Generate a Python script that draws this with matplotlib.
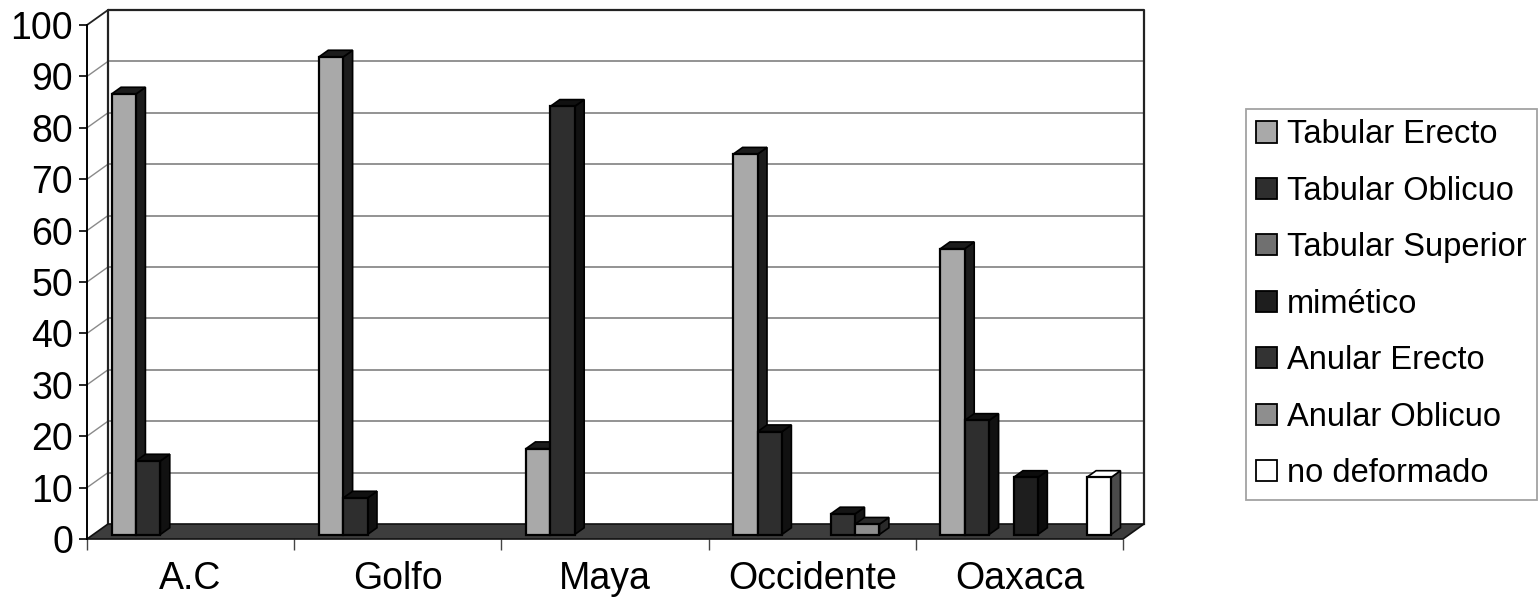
import numpy as np
import matplotlib
matplotlib.use("Agg")
import matplotlib.pyplot as plt
from matplotlib.patches import Patch

plt.rcParams["font.family"] = ["Liberation Sans", "DejaVu Sans"]

# porcentaje de cada tipo de deformación por región
regiones = ["A.C", "Golfo", "Maya", "Occidente", "Oaxaca"]
tipos = ["Tabular Erecto", "Tabular Oblicuo", "Tabular Superior", "mimético",
         "Anular Erecto", "Anular Oblicuo", "no deformado"]
tabular_erecto = [85.7, 92.9, 16.7, 74.0, 55.6]
tabular_oblicuo = [14.3, 7.1, 83.3, 20.0, 22.2]
tabular_superior = [0, 0, 0, 0, 0]
mimetico = [0, 0, 0, 0, 11.1]
anular_erecto = [0, 0, 0, 4.0, 0]
anular_oblicuo = [0, 0, 0, 2.0, 0]
no_deformado = [0, 0, 0, 0, 11.1]
series = [tabular_erecto, tabular_oblicuo, tabular_superior, mimetico,
          anular_erecto, anular_oblicuo, no_deformado]

# (frente, lado/tapa) en escala de grises
colores = [("#a9a9a9", "#1c1c1c"), ("#2e2e2e", "#111111"), ("#707070", "#2a2a2a"),
           ("#1e1e1e", "#0c0c0c"), ("#333333", "#151515"), ("#8e8e8e", "#2a2a2a"),
           ("#ffffff", "#4a4a4a")]

W, H = 1538, 601
fig = plt.figure(figsize=(W / 100, H / 100), dpi=100)
x0_px, x1_px, y0_px, y1_px = 87, 1123, 539, 25
ax = fig.add_axes([x0_px / W, (H - y0_px) / H, (x1_px - x0_px) / W, (y0_px - y1_px) / H])
ncat = len(regiones)
ax.set_xlim(0, ncat)
ax.set_ylim(0, 100)

# desplazamiento de profundidad (pseudo 3D) en unidades de datos
px_x = (x1_px - x0_px) / ncat
px_y = (y0_px - y1_px) / 100
dX, dY = 21 / px_x, 15 / px_y

# pared del fondo, pared lateral y piso
grid_c = "#8a8a8a"
for v in range(10, 100, 10):
    ax.plot([dX, ncat + dX], [v + dY, v + dY], color=grid_c, lw=1.3, clip_on=False, zorder=1)
    ax.plot([0, dX], [v, v + dY], color=grid_c, lw=1.0, clip_on=False, zorder=1)
ax.plot([dX, dX, ncat + dX, ncat + dX], [dY, 100 + dY, 100 + dY, dY],
        color="#222222", lw=1.6, clip_on=False, zorder=1)
ax.plot([0, dX], [100, 100 + dY], color="#222222", lw=1.3, clip_on=False, zorder=1)
ax.fill([0, ncat, ncat + dX, dX], [0, 0, dY, dY], facecolor="#3d3d3d",
        edgecolor="#111111", lw=1.2, clip_on=False, zorder=2)

# barras: cara frontal con ax.bar, tapa y lado como polígonos
w = 1 / (len(tipos) + 1.5)
f1, f2 = 0.3, 0.75
for i in range(ncat):
    for j, vals in enumerate(series):
        v = vals[i]
        if v <= 0:
            continue
        front, dark = colores[j]
        xl = i + (0.75 + j) * w + f1 * dX
        xr = xl + w
        yb = f1 * dY
        ddx, ddy = (f2 - f1) * dX, (f2 - f1) * dY
        z = 3 + j * 0.01 + i
        ax.fill([xr, xr + ddx, xr + ddx, xr], [yb, yb + ddy, yb + v + ddy, yb + v],
                facecolor=dark, edgecolor="black", lw=1.2, clip_on=False, zorder=z)
        ax.fill([xl, xr, xr + ddx, xl + ddx], [yb + v, yb + v, yb + v + ddy, yb + v + ddy],
                facecolor=front if j == 6 else dark, edgecolor="black", lw=1.2,
                clip_on=False, zorder=z)
        ax.bar(xl, v, width=w, bottom=yb, align="edge", color=front,
               edgecolor="black", lw=1.6, zorder=z + 0.005, clip_on=False)

# ejes
for s in ["top", "right"]:
    ax.spines[s].set_visible(False)
ax.spines["left"].set_linewidth(1.4)
ax.spines["bottom"].set_visible(False)
ax.set_yticks(range(0, 101, 10))
ax.tick_params(axis="y", length=6, width=1.2, pad=4, labelsize=27)
ax.set_xticks(range(ncat + 1))
ax.set_xticklabels([])
ax.tick_params(axis="x", which="major", length=8, width=1.0, color="#444444")
ax.set_xticks(np.arange(ncat) + 0.5, minor=True)
ax.set_xticklabels(regiones, minor=True)
ax.tick_params(axis="x", which="minor", length=0, pad=16, labelsize=27)
ax.patch.set_alpha(0)

handles = [Patch(facecolor=c[0], edgecolor="black", lw=1.3) for c in colores]
leg = ax.legend(handles, tipos, loc="upper left", bbox_to_anchor=(1246 / W, 1 - 109 / H),
                bbox_transform=fig.transFigure, fontsize=23.5, frameon=True, fancybox=False,
                edgecolor="#8c8c8c", handlelength=0.62, handleheight=0.62,
                handletextpad=0.32, labelspacing=0.78, borderpad=0.32, borderaxespad=0)
leg.get_frame().set_linewidth(1.3)

fig.savefig("out.png", dpi=100)
